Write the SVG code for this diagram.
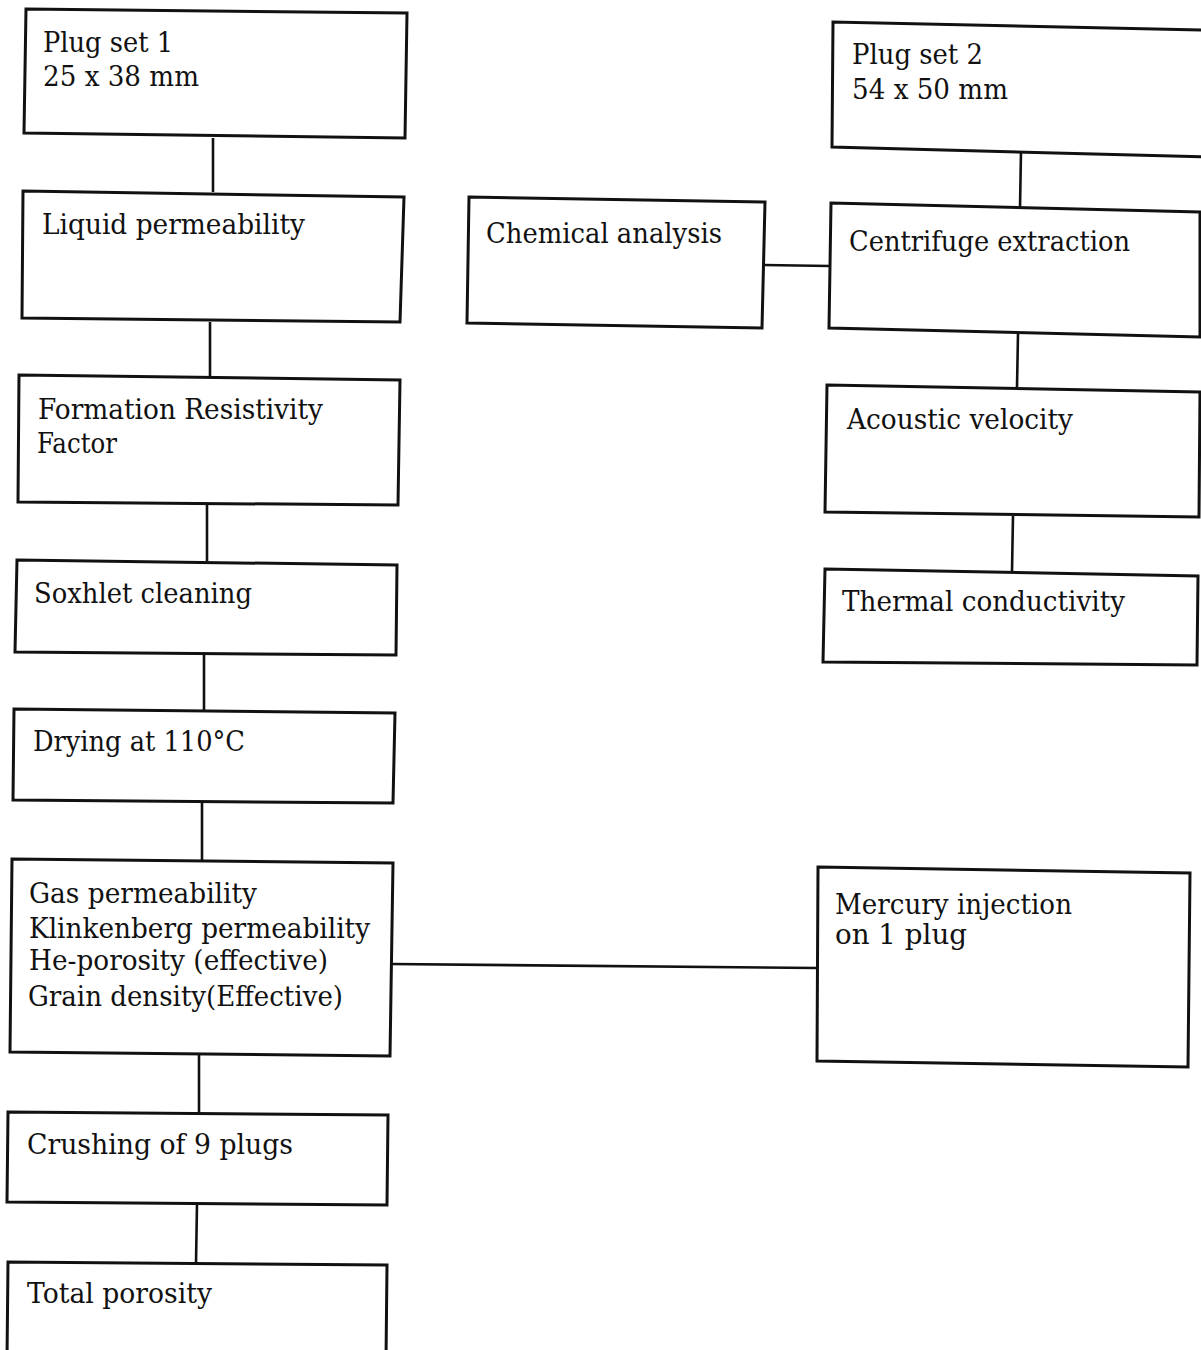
<svg xmlns="http://www.w3.org/2000/svg" width="1201" height="1350" viewBox="0 0 1201 1350">
<style>
.box{fill:none;stroke:#111;stroke-width:3;stroke-linejoin:miter}
.con{fill:none;stroke:#111;stroke-width:2.6}
text{font-family:"DejaVu Serif","Liberation Serif",serif;font-size:28px;fill:#111}
</style>
<rect width="1201" height="1350" fill="#fff"/>
<g id="connectors">
<line class="con" x1="213" y1="138" x2="213" y2="192"/>
<line class="con" x1="210" y1="322" x2="210" y2="376"/>
<line class="con" x1="207" y1="504" x2="207" y2="561"/>
<line class="con" x1="204" y1="654" x2="204" y2="710"/>
<line class="con" x1="202" y1="802" x2="202" y2="860"/>
<line class="con" x1="199" y1="1055" x2="199" y2="1113"/>
<line class="con" x1="197" y1="1204" x2="196" y2="1263"/>
<line class="con" x1="391" y1="964" x2="817" y2="968"/>
<line class="con" x1="764" y1="265" x2="830" y2="266"/>
<line class="con" x1="1021" y1="151" x2="1020" y2="208"/>
<line class="con" x1="1018" y1="334" x2="1017" y2="387"/>
<line class="con" x1="1013" y1="516" x2="1012" y2="571"/>
</g>
<g id="plug-set-1">
<polygon class="box" points="26,9 407,13 405,138 24,133"/>
<text x="43" y="52" textLength="130" lengthAdjust="spacingAndGlyphs">Plug set 1</text>
<text x="43" y="86" textLength="156" lengthAdjust="spacingAndGlyphs">25 x 38 mm</text>
</g>
<g id="liquid-permeability">
<polygon class="box" points="23,191 404,197 400,322 22,318"/>
<text x="42" y="234" textLength="263" lengthAdjust="spacingAndGlyphs">Liquid permeability</text>
</g>
<g id="formation-resistivity">
<polygon class="box" points="19,375 400,380 398,505 18,502"/>
<text x="38" y="419" textLength="285" lengthAdjust="spacingAndGlyphs">Formation Resistivity</text>
<text x="37" y="453" textLength="80" lengthAdjust="spacingAndGlyphs">Factor</text>
</g>
<g id="soxhlet-cleaning">
<polygon class="box" points="17,560 397,565 396,655 15,652"/>
<text x="34" y="603" textLength="218" lengthAdjust="spacingAndGlyphs">Soxhlet cleaning</text>
</g>
<g id="drying">
<polygon class="box" points="14,709 395,713 393,803 13,800"/>
<text x="33" y="751" textLength="212" lengthAdjust="spacingAndGlyphs">Drying at 110°C</text>
</g>
<g id="gas-permeability">
<polygon class="box" points="12,859 393,863 390,1056 10,1052"/>
<text x="29" y="903" textLength="228" lengthAdjust="spacingAndGlyphs">Gas permeability</text>
<text x="29" y="938" textLength="341" lengthAdjust="spacingAndGlyphs">Klinkenberg permeability</text>
<text x="29" y="970" textLength="299" lengthAdjust="spacingAndGlyphs">He-porosity (effective)</text>
<text x="28" y="1006" textLength="315" lengthAdjust="spacingAndGlyphs">Grain density(Effective)</text>
</g>
<g id="crushing">
<polygon class="box" points="8,1112 388,1115 387,1205 7,1202"/>
<text x="27" y="1154" textLength="266" lengthAdjust="spacingAndGlyphs">Crushing of 9 plugs</text>
</g>
<g id="total-porosity">
<polyline class="box" points="7,1360 8,1262 387,1265 386,1360"/>
<text x="27" y="1303" textLength="185" lengthAdjust="spacingAndGlyphs">Total porosity</text>
</g>
<g id="plug-set-2">
<polyline class="box" points="1206,30 833,22 832,147 1206,157"/>
<text x="852" y="64" textLength="131" lengthAdjust="spacingAndGlyphs">Plug set 2</text>
<text x="852" y="99" textLength="156" lengthAdjust="spacingAndGlyphs">54 x 50 mm</text>
</g>
<g id="chemical-analysis">
<polygon class="box" points="469,197 765,202 762,328 467,323"/>
<text x="486" y="243" textLength="236" lengthAdjust="spacingAndGlyphs">Chemical analysis</text>
</g>
<g id="centrifuge-extraction">
<polygon class="box" points="831,203 1200,212 1200,337 829,328"/>
<text x="849" y="251" textLength="281" lengthAdjust="spacingAndGlyphs">Centrifuge extraction</text>
</g>
<g id="acoustic-velocity">
<polygon class="box" points="827,385 1200,392 1199,517 825,512"/>
<text x="847" y="429" textLength="226" lengthAdjust="spacingAndGlyphs">Acoustic velocity</text>
</g>
<g id="thermal-conductivity">
<polygon class="box" points="825,569 1198,576 1197,665 823,662"/>
<text x="842" y="611" textLength="283" lengthAdjust="spacingAndGlyphs">Thermal conductivity</text>
</g>
<g id="mercury-injection">
<polygon class="box" points="818,867 1190,873 1188,1067 817,1061"/>
<text x="835" y="914" textLength="237" lengthAdjust="spacingAndGlyphs">Mercury injection</text>
<text x="835" y="944" textLength="132" lengthAdjust="spacingAndGlyphs">on 1 plug</text>
</g>
</svg>
